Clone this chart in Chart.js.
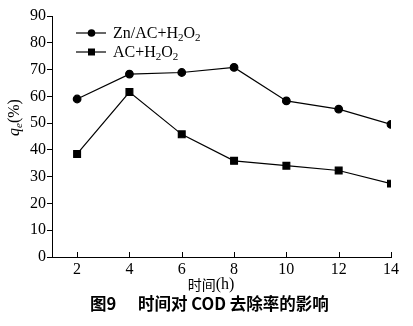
<!DOCTYPE html>
<html>
<head>
<meta charset="utf-8">
<script src="https://cdn.jsdelivr.net/npm/chart.js@4.4.0/dist/chart.umd.min.js"></script>
<style>
  html, body { margin: 0; padding: 0; background: #fff; }
  #wrap { width: 413px; height: 326px; }
</style>
</head>
<body>
<div id="wrap"><canvas id="grafico" width="413" height="326"></canvas></div>
<script>
// tiempo (h)
var horas = [2, 4, 6, 8, 10, 12, 14];
var znAc = [59, 68.3, 68.9, 70.8, 58.3, 55.2, 49.5];
var soloAc = [38.5, 61.6, 45.8, 35.9, 34.1, 32.3, 27.4];
var ticksX = [2, 4, 6, 8, 10, 12, 14];

var serif = '"Liberation Serif", "Times New Roman", serif';
var cjk = '"Noto Sans CJK SC", sans-serif';

function puntos(vals) {
    return horas.map(function (h, i) { return { x: h, y: vals[i] }; });
}

// dibuja texto con subindices: partes = [[texto, esSub], ...]
function textoSub(ctx, partes, x, y, size) {
    partes.forEach(function (p) {
        ctx.font = (p[1] ? Math.round(size * 0.7) : size) + 'px ' + serif;
        ctx.fillText(p[0], x, p[1] ? y + size * 0.28 : y);
        x += ctx.measureText(p[0]).width;
    });
}

var extras = {
    id: 'extras',
    afterDraw: function (chart) {
        var ctx = chart.ctx;
        var sx = chart.scales.x, sy = chart.scales.y;
        ctx.save();
        ctx.strokeStyle = '#000';
        ctx.fillStyle = '#000';
        ctx.lineWidth = 1;

        // ticks del eje x hacia dentro
        ticksX.forEach(function (v) {
            var px = Math.round(sx.getPixelForValue(v)) + 0.5;
            ctx.beginPath();
            ctx.moveTo(px, sy.bottom);
            ctx.lineTo(px, sy.bottom - 5);
            ctx.stroke();
        });

        // leyenda
        ctx.textBaseline = 'middle';
        ctx.textAlign = 'left';
        var filas = [
            { y: 33, tipo: 'c', partes: [['Zn/AC+H', 0], ['2', 1], ['O', 0], ['2', 1]] },
            { y: 52, tipo: 's', partes: [['AC+H', 0], ['2', 1], ['O', 0], ['2', 1]] }
        ];
        filas.forEach(function (f) {
            ctx.lineWidth = 1.2;
            ctx.beginPath();
            ctx.moveTo(76, f.y);
            ctx.lineTo(106, f.y);
            ctx.stroke();
            ctx.beginPath();
            if (f.tipo === 'c') {
                ctx.arc(91.5, f.y, 3.8, 0, Math.PI * 2);
            } else {
                ctx.rect(88, f.y - 3.5, 7, 7);
            }
            ctx.fill();
            textoSub(ctx, f.partes, 113, f.y + 1, 16);
        });

        // titulo eje y
        ctx.save();
        ctx.translate(15, 117);
        ctx.rotate(-Math.PI / 2);
        ctx.textAlign = 'left';
        var x0 = -19;
        ctx.font = 'italic 16px ' + serif;
        ctx.fillText('q', x0, 0);
        x0 += ctx.measureText('q').width;
        ctx.font = 'italic 11px ' + serif;
        ctx.fillText('e', x0, 4);
        x0 += ctx.measureText('e').width;
        ctx.font = '16px ' + serif;
        ctx.fillText('(%)', x0, 0);
        ctx.restore();

        // titulo eje x
        ctx.textAlign = 'left';
        ctx.font = '14px ' + cjk;
        var wCh = ctx.measureText('时间').width;
        ctx.font = '16px ' + serif;
        var wH = ctx.measureText('(h)').width;
        var xs = 211 - (wCh + wH) / 2;
        ctx.font = '14px ' + cjk;
        ctx.fillText('时间', xs, 285);
        ctx.font = '16px ' + serif;
        ctx.fillText('(h)', xs + wCh, 285);

        // pie de figura
        ctx.font = 'bold 16.5px ' + cjk;
        ctx.fillText('图9', 90, 304);
        ctx.fillText('时间对 COD 去除率的影响', 138, 304);
        ctx.restore();
    }
};

new Chart(document.getElementById('grafico'), {
    type: 'line',
    data: {
        datasets: [
            {
                label: 'Zn/AC+H2O2',
                data: puntos(znAc),
                borderColor: '#000',
                backgroundColor: '#000',
                borderWidth: 1.2,
                pointStyle: 'circle',
                pointRadius: 3.8,
                pointHoverRadius: 3.8,
                fill: false,
                tension: 0
            },
            {
                label: 'AC+H2O2',
                data: puntos(soloAc),
                borderColor: '#000',
                backgroundColor: '#000',
                borderWidth: 1.2,
                pointStyle: 'rect',
                pointRadius: 4.8,
                pointHoverRadius: 4.8,
                fill: false,
                tension: 0
            }
        ]
    },
    options: {
        responsive: false,
        animation: false,
        layout: { padding: { top: 16, right: 22, left: 0, bottom: 0 } },
        plugins: { legend: { display: false }, tooltip: { enabled: false } },
        scales: {
            x: {
                type: 'linear',
                min: 1.04,
                max: 14,
                afterBuildTicks: function (s) {
                    s.ticks = ticksX.map(function (v) { return { value: v }; });
                },
                afterFit: function (s) { s.height = 69; },
                grid: { display: false, drawTicks: false },
                border: { display: true, color: '#000', width: 1 },
                ticks: {
                    color: '#000',
                    padding: 3,
                    maxRotation: 0,
                    autoSkip: false,
                    font: { family: serif, size: 16 }
                }
            },
            y: {
                min: 0,
                max: 90,
                afterFit: function (s) { s.width = 52; },
                grid: { drawOnChartArea: false, drawTicks: true, tickLength: 5, color: '#000' },
                border: { display: true, color: '#000', width: 1 },
                ticks: {
                    stepSize: 10,
                    color: '#000',
                    padding: 1,
                    font: { family: serif, size: 16 }
                }
            }
        }
    },
    plugins: [extras]
});
</script>
</body>
</html>
